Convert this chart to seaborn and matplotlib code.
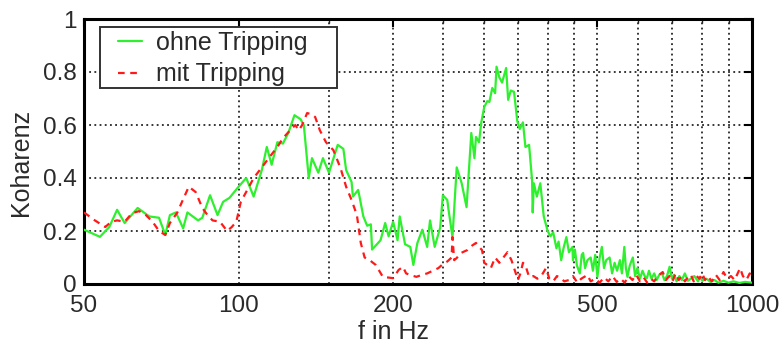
import matplotlib
matplotlib.use("Agg")
import matplotlib.pyplot as plt
import pandas as pd
import seaborn as sns
from matplotlib.patches import Rectangle
from matplotlib.ticker import FixedLocator, FixedFormatter, NullFormatter

# Kohaerenz ohne Tripping (Frequenz in Hz, Kohaerenz)
f_ohne = [50, 53.7, 56, 58, 60, 63.6, 67, 70, 72, 73.5, 75.5, 78, 79.5, 83.4, 85, 88, 91, 93.3, 96,
          100, 103.5, 107, 111, 113.5, 116, 119, 122, 125, 128.5, 132, 134, 137, 139, 143, 146, 150,
          156, 160, 162, 166, 167, 171, 175, 178, 181, 182, 189, 193, 196, 200, 204, 206, 211, 216,
          219, 223, 228, 233, 236, 241, 247, 250, 255, 256, 261, 266, 272, 278, 284, 288, 290, 294,
          297, 301, 305, 308, 312, 316, 318, 322, 326, 332, 335, 339, 344, 349, 353, 358, 362, 368,
          373, 374, 376, 381, 387, 393, 400, 405, 410, 416, 420, 425, 430, 435, 440, 447, 448, 452,
          456, 462, 466, 469, 473, 478, 485, 490, 495, 500, 505, 510, 515, 520, 528, 534, 540, 546,
          553, 558, 564, 568, 572, 578, 586, 592, 598, 605, 612, 618, 624, 630, 637, 645, 652, 660,
          668, 675, 683, 691, 698, 705, 713, 722, 730, 740, 750, 760, 772, 785, 792, 800, 815, 830,
          845, 860, 880, 900, 920, 945, 970, 1000]
k_ohne = [0.205, 0.178, 0.215, 0.28, 0.23, 0.287, 0.255, 0.25, 0.185, 0.26, 0.27, 0.21, 0.27, 0.24, 0.25,
          0.335, 0.26, 0.31, 0.325, 0.367, 0.40, 0.33, 0.43, 0.517, 0.45, 0.535, 0.53, 0.57, 0.637, 0.622,
          0.60, 0.40, 0.475, 0.42, 0.475, 0.42, 0.525, 0.51, 0.43, 0.385, 0.33, 0.355, 0.255, 0.22, 0.225,
          0.13, 0.165, 0.23, 0.18, 0.235, 0.165, 0.255, 0.15, 0.14, 0.072, 0.155, 0.205, 0.14, 0.24, 0.14,
          0.213, 0.335, 0.317, 0.29, 0.177, 0.44, 0.38, 0.29, 0.57, 0.475, 0.555, 0.535, 0.61, 0.668, 0.69,
          0.687, 0.74, 0.72, 0.82, 0.78, 0.76, 0.815, 0.695, 0.73, 0.725, 0.615, 0.585, 0.61, 0.517, 0.525,
          0.39, 0.27, 0.38, 0.33, 0.38, 0.255, 0.2, 0.18, 0.195, 0.135, 0.16, 0.09, 0.14, 0.177, 0.12, 0.14,
          0.09, 0.13, 0.07, 0.04, 0.11, 0.117, 0.06, 0.09, 0.1, 0.05, 0.11, 0.027, 0.1, 0.14, 0.06, 0.09,
          0.1, 0.04, 0.08, 0.05, 0.09, 0.04, 0.14, 0.06, 0.027, 0.07, 0.1, 0.03, 0.06, 0.02, 0.05, 0.03,
          0.022, 0.05, 0.02, 0.04, 0.015, 0.035, 0.04, 0.015, 0.03, 0.065, 0.02, 0.035, 0.01, 0.03, 0.015,
          0.04, 0.012, 0.02, 0.03, 0.01, 0.027, 0.012, 0.02, 0.008, 0.015, 0.005, 0.012, 0.005, 0.01, 0.004,
          0.008, 0.005]

# Kohaerenz mit Tripping
f_mit = [50, 52.5, 55, 56.5, 58, 60, 62, 64, 66, 68, 70, 72, 73.5, 76, 78, 80, 82.5, 85, 87, 89, 92, 95,
         97, 99, 101, 104, 107, 111, 115, 119, 122, 126, 129, 131, 133, 136, 139, 141, 144, 148, 153, 158,
         162, 166, 170, 173, 176, 180, 185, 191, 200, 205, 209, 212, 216, 222, 228, 233, 239, 245, 249,
         255, 260, 261, 263, 266, 271, 279, 285, 290, 294, 298, 301, 305, 310, 316, 322, 328, 334, 340,
         345, 350, 354, 358, 362, 368, 375, 382, 390, 397, 403, 410, 417, 424, 431, 440, 448, 457, 465,
         478, 485, 495, 505, 515, 525, 535, 545, 555, 565, 575, 585, 595, 605, 615, 625, 635, 645, 655,
         670, 680, 690, 700, 710, 720, 730, 740, 750, 760, 770, 780, 790, 800, 810, 820, 835, 850, 865,
         880, 895, 910, 925, 948, 960, 975, 990, 1000]
k_mit = [0.27, 0.24, 0.215, 0.235, 0.24, 0.235, 0.267, 0.275, 0.26, 0.235, 0.2, 0.185, 0.23, 0.27, 0.32,
         0.367, 0.347, 0.287, 0.26, 0.24, 0.235, 0.2, 0.215, 0.235, 0.31, 0.355, 0.40, 0.44, 0.48, 0.517,
         0.55, 0.58, 0.60, 0.58, 0.60, 0.645, 0.64, 0.63, 0.58, 0.535, 0.505, 0.437, 0.367, 0.317, 0.26,
         0.155, 0.1, 0.09, 0.072, 0.027, 0.022, 0.053, 0.065, 0.04, 0.034, 0.027, 0.035, 0.04, 0.05, 0.06,
         0.072, 0.085, 0.1, 0.177, 0.09, 0.098, 0.117, 0.128, 0.145, 0.155, 0.14, 0.128, 0.08, 0.072, 0.06,
         0.1, 0.08, 0.1, 0.12, 0.09, 0.053, 0.015, 0.04, 0.08, 0.07, 0.027, 0.03, 0.02, 0.035, 0.06, 0.02,
         0.01, 0.03, 0.022, 0.01, 0.015, 0.03, 0.005, 0.02, 0.034, 0.01, 0.02, 0.005, 0.025, 0.01, 0.03,
         0.008, 0.02, 0.005, 0.03, 0.015, 0.035, 0.01, 0.025, 0.005, 0.02, 0.01, 0.03, 0.045, 0.015, 0.03,
         0.01, 0.04, 0.015, 0.03, 0.01, 0.025, 0.035, 0.01, 0.03, 0.02, 0.04, 0.015, 0.03, 0.01, 0.035,
         0.015, 0.045, 0.02, 0.03, 0.015, 0.06, 0.03, 0.015, 0.04, 0.02]

series_names = ["ohne Tripping", "mit Tripping"]
x_ticks = [50, 100, 200, 500, 1000]
x_tick_labels = ["50", "100", "200", "500", "1000"]
x_minor = [150, 250, 300, 350, 400, 450, 600, 700, 800, 900]
y_ticks = [0, 0.2, 0.4, 0.6, 0.8, 1]
y_tick_labels = ["0", "0.2", "0.4", "0.6", "0.8", "1"]

df = pd.concat([
    pd.DataFrame({"f": f_ohne, "k": k_ohne, "Messung": series_names[0]}),
    pd.DataFrame({"f": f_mit, "k": k_mit, "Messung": series_names[1]}),
], ignore_index=True)

sns.set_style("white")
plt.rcParams["font.family"] = ["Liberation Sans", "DejaVu Sans"]
text_color = "#2a2a2a"

W, H = 782, 343
fig = plt.figure(figsize=(W / 100, H / 100), dpi=100)
ax = fig.add_axes([84 / W, 1 - 284 / H, 668 / W, 265 / H])

sns.lineplot(data=df, x="f", y="k", hue="Messung", style="Messung",
             palette={series_names[0]: "#2ef02e", series_names[1]: "#ff1a1a"},
             dashes={series_names[0]: "", series_names[1]: (3, 2.5)},
             estimator=None, sort=False, linewidth=1.6, ax=ax, zorder=3)

ax.set_xscale("log")
ax.set_xlim(50, 1000)
ax.set_ylim(0, 1)
ax.xaxis.set_major_locator(FixedLocator(x_ticks))
ax.xaxis.set_major_formatter(FixedFormatter(x_tick_labels))
ax.xaxis.set_minor_locator(FixedLocator(x_minor))
ax.xaxis.set_minor_formatter(NullFormatter())
ax.set_yticks(y_ticks)
ax.set_yticklabels(y_tick_labels)

grid_kw = dict(color="black", linestyle=(0, (1.2, 2.2)), linewidth=1.1)
ax.grid(True, which="major", axis="both", **grid_kw)
ax.grid(True, which="minor", axis="x", **grid_kw)
ax.set_axisbelow(True)

ax.tick_params(axis="both", which="major", direction="in", top=True, right=True,
               length=6, width=1.5, labelsize=17.5, labelcolor=text_color, color="black")
ax.tick_params(axis="x", which="major", pad=8)
ax.tick_params(axis="y", which="major", pad=5)
ax.tick_params(axis="x", which="minor", direction="in", top=True, length=3, width=1.0)

for side in ["left", "right", "top", "bottom"]:
    ax.spines[side].set_visible(True)
    ax.spines[side].set_color("black")
    ax.spines[side].set_linewidth(2.2)

ax.set_xlabel("f in Hz", fontsize=18, color=text_color)
ax.set_ylabel("Koharenz", fontsize=18, color=text_color)
ax.xaxis.set_label_coords(0.464, -0.135)
ax.yaxis.set_label_coords(-0.077, 0.46)

# legend box (white, framed) with the legend entries laid on top
box_x0, box_x1 = (100 - 84) / 668, (337 - 84) / 668
box_y0, box_y1 = (284 - 88) / 265, (284 - 27) / 265
ax.add_patch(Rectangle((box_x0, box_y0), box_x1 - box_x0, box_y1 - box_y0,
                       transform=ax.transAxes, facecolor="white", edgecolor="#333333",
                       linewidth=1.4, zorder=4))
leg = ax.legend(loc="upper left", bbox_to_anchor=((118 - 84) / 668, (284 - 31) / 265),
                borderaxespad=0, fontsize=18, frameon=False,
                handlelength=0.95, handletextpad=0.55, labelspacing=0.3, borderpad=0.0,
                title=None)
for t in leg.get_texts():
    t.set_color(text_color)
leg.set_zorder(5)

fig.savefig("out.png", dpi=100)
